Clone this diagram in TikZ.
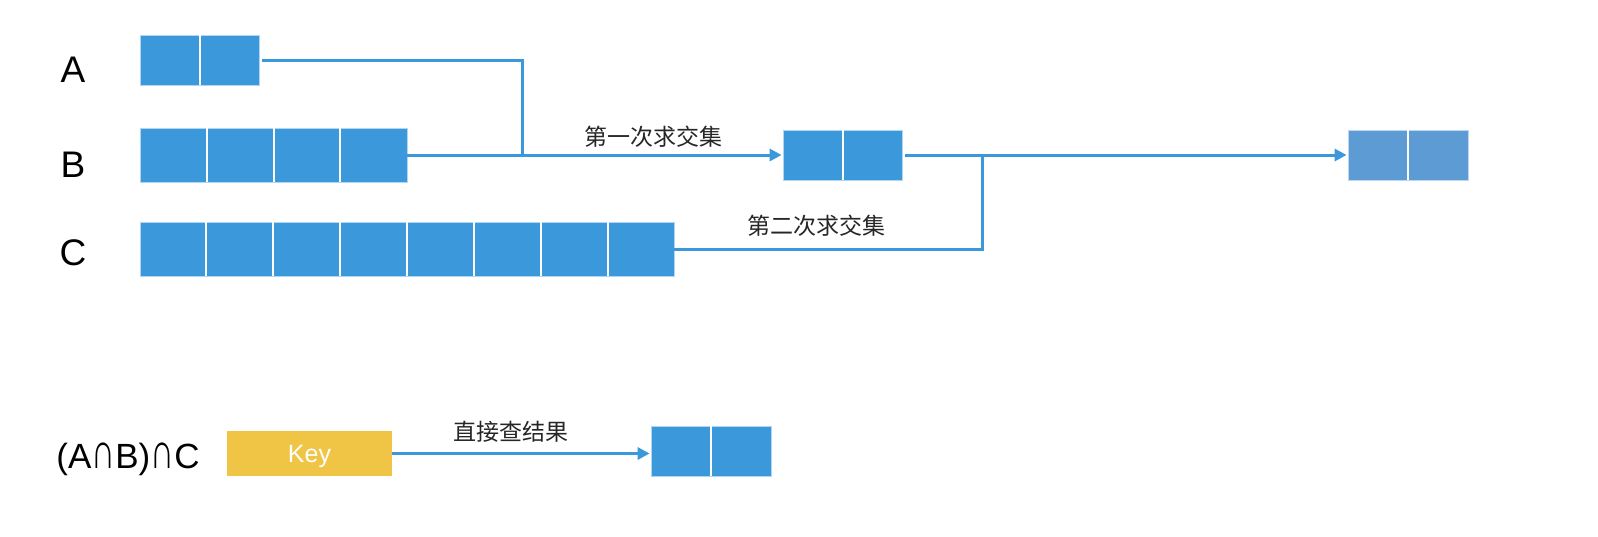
\documentclass[tikz,border=0pt]{standalone}
\usepackage{fontspec}
\setmainfont{Liberation Sans}
\newfontfamily\cjk{Noto Sans CJK SC}
\usetikzlibrary{arrows.meta,calc}
\definecolor{cellblue}{HTML}{3A98DB}
\definecolor{resblue}{HTML}{5C9BD4}
\definecolor{keyyellow}{HTML}{F0C545}
\newcommand\tallcap{\scalebox{0.95}[1.45]{∩}}
\tikzset{
  arraybox/.style={fill=cellblue, draw=cellblue!40, line width=0.8pt, inner sep=0pt},
  resarraybox/.style={fill=resblue, draw=resblue!40, line width=0.8pt, inner sep=0pt},
  divider/.style={draw=white, line width=2pt},
  link/.style={draw=cellblue, line width=3pt},
  arrowlink/.style={link, -{Triangle[length=12pt,width=12pt]}, shorten >=1pt},
  setlabel/.style={font=\fontsize{37}{37}\selectfont, inner sep=0pt, text=black},
  cnlabel/.style={font=\cjk\fontsize{23}{23}\selectfont, inner sep=0pt, text=black!85},
}
\begin{document}
\begin{tikzpicture}[x=1pt,y=-1pt]
\useasboundingbox (0,0) rectangle (1598,536);
% set labels
\node[setlabel] (la) at (73,70) {A};
\node[setlabel] (lb) at (73,165) {B};
\node[setlabel] (lc) at (73,253) {C};
% arrays
\node[arraybox, minimum width=119pt, minimum height=50pt] (A) at (199.5,60) {};
\node[arraybox, minimum width=267pt, minimum height=54pt] (B) at (273.5,155) {};
\node[arraybox, minimum width=534pt, minimum height=54pt] (C) at (407,249) {};
\node[arraybox, minimum width=119pt, minimum height=50pt] (M) at (842.5,155) {};
\node[resarraybox, minimum width=120pt, minimum height=50pt] (R) at (1408,155) {};
\node[arraybox, minimum width=120pt, minimum height=50pt] (Q) at (711,451) {};
\foreach \nm/\k in {A/2,B/4,C/8,M/2,R/2,Q/2}{
  \pgfmathtruncatemacro\last{\k-1}
  \foreach \i in {1,...,\last}{
    \draw[divider] ($(\nm.north west)!\i/\k!(\nm.north east)$) -- ($(\nm.south west)!\i/\k!(\nm.south east)$);
  }
}
% connectors
\coordinate (J) at (522,155);
\coordinate (K) at (982,155);
\draw[link] ([xshift=3pt]A.east) -| (J);
\draw[arrowlink] (B.east) -- (M.west);
\draw[link] (C.east) -| (K);
\draw[arrowlink] ([xshift=3pt]M.east) -- (R.west);
\node[cnlabel] (t1) at (653,137) {第一次求交集};
\node[cnlabel] (t2) at (816,226) {第二次求交集};
% bottom
\node[setlabel, font=\fontsize{35}{35}\selectfont] (expr) at (128,459) {(A\tallcap B)\tallcap C};
\node[fill=keyyellow, minimum width=165pt, minimum height=45pt, inner sep=0pt,
      text height=18pt, text depth=0pt,
      text=white, font=\fontsize{25}{25}\selectfont] (Key) at (309.5,453.5) {Key};
\draw[arrowlink] (Key.east) -- (Key.east -| Q.west);
\node[cnlabel] (t3) at (511,432) {直接查结果};
\end{tikzpicture}
\end{document}
